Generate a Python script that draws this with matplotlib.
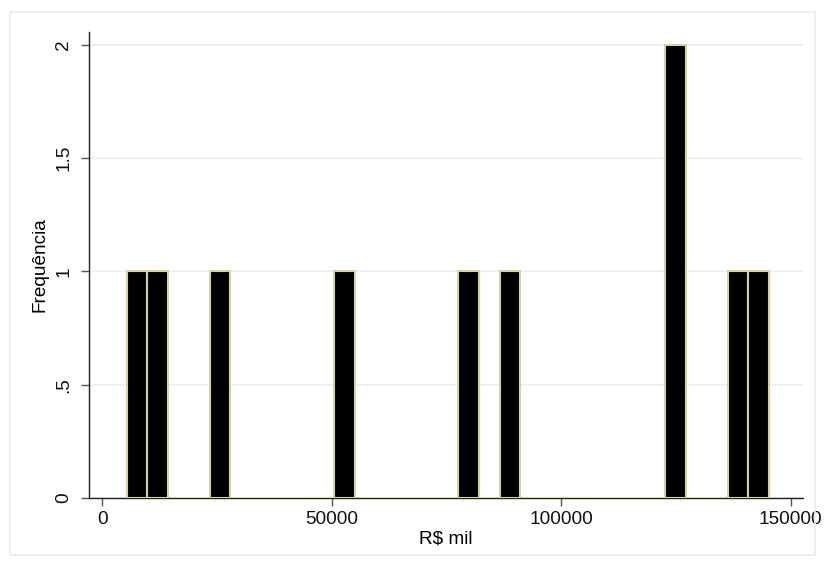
import matplotlib.pyplot as plt

valores = [5318, 11800, 24500, 52000, 79500, 88500, 124000, 125500, 137500, 145314]
n_bins = 31

yticks = [0, 0.5, 1, 1.5, 2]
ytick_labels = ['0', '.5', '1', '1.5', '2']
xticks = [0, 50000, 100000, 150000]

plt.rcParams['font.family'] = ['Liberation Sans', 'DejaVu Sans']

fig = plt.figure(figsize=(8.27, 5.69), dpi=100)
ax = fig.add_axes([89 / 827, 1 - 498 / 569, (803 - 89) / 827, (498 - 32) / 569])

# moldura externa clara (estilo Stata)
fig.patches.append(plt.Rectangle((10 / 827, 14 / 569), 805 / 827, 543 / 569,
                                 transform=fig.transFigure, fill=False,
                                 edgecolor='#e6eef0', linewidth=1.2))

ax.grid(axis='y', color='#eaf2f3', linewidth=1.5, zorder=0)
ax.set_axisbelow(True)

ax.hist(valores, bins=n_bins, range=(min(valores), max(valores)),
        color='black', edgecolor='#d8d1a0', linewidth=1.5, zorder=3)

ax.set_xlim(-2900, 152700)
ax.set_ylim(0, 2.057)

ax.set_xticks(xticks)
ax.set_xticklabels([str(t) for t in xticks])
ax.set_yticks(yticks)
ax.set_yticklabels(ytick_labels, rotation=90, va='center')

ax.tick_params(axis='both', direction='out', length=6, width=1, color='#555555',
               labelsize=13.7, labelcolor='#111111')
ax.tick_params(axis='y', pad=6)

for s in ['top', 'right']:
    ax.spines[s].set_visible(False)
for s in ['left', 'bottom']:
    ax.spines[s].set_color('#222222')
    ax.spines[s].set_linewidth(1)

ax.set_xlabel('R$ mil', fontsize=13.7, labelpad=2)
ax.set_ylabel('Frequência', fontsize=13.7, labelpad=5)

fig.savefig('out.png', dpi=100)
